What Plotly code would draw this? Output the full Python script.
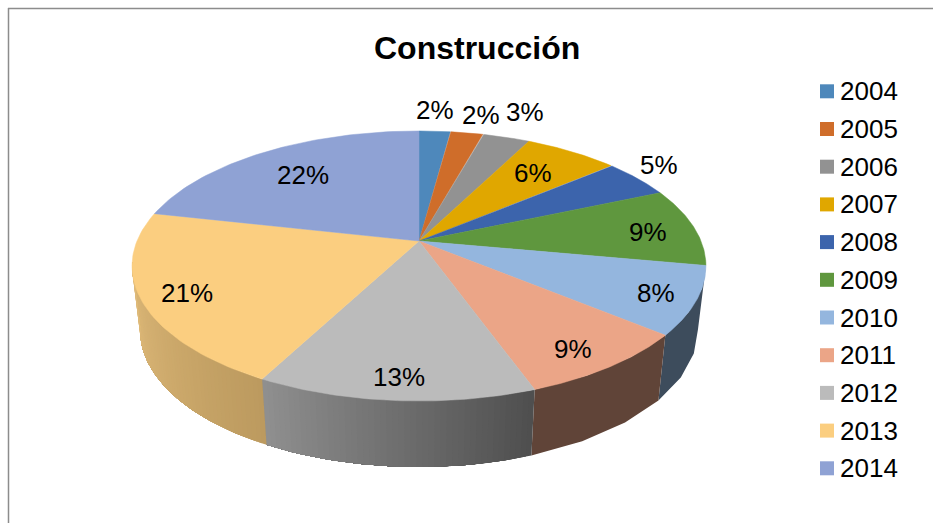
import numpy as np
import plotly.graph_objects as go

# ---------- data ----------
years = ["2004", "2005", "2006", "2007", "2008", "2009", "2010", "2011", "2012", "2013", "2014"]
shares = [2.1, 2.2, 3.2, 6.3, 4.7, 9.4, 8.1, 8.5, 13.2, 20.8, 21.5]
labels = ["2%", "2%", "3%", "6%", "5%", "9%", "8%", "9%", "13%", "21%", "22%"]
title = "Construcción"

# ---------- styles ----------
top_colors = ["#4E88BB", "#CF6D2A", "#929292", "#E0A700", "#3C64AC", "#5F973E",
              "#94B6DE", "#EBA587", "#BBBBBB", "#FBCE80", "#8FA2D4"]
side_colors = {"2010": ("#3D4C5C", "#3D4C5C"), "2011": ("#604438", "#604438"),
               "2012": ("#909090", "#4E4E4E"), "2013": ("#E0BB7A", "#BC9A5F"),
               "2014": ("#E0BB7A", "#E0BB7A")}
label_pos = [(435, 110), (481, 115), (525, 112), (533, 173), (659, 165), (648, 232),
             (656, 293), (573, 349), (399, 377), (187, 293), (303, 175)]
FONT = "Liberation Sans"

# ---------- projection of the tilted disc onto the pixel-scaled axes ----------
CX, CY, A, B, K = 419.0, 241.0, 282.0, 130.4, 0.185
DEPTH, SHRINK = 64.0, 0.972


def top(theta):
    u, v = np.sin(theta), np.cos(theta)
    w = 1 + K * v
    return CX + A * u / w, CY - B * v / w


def bottom(theta):
    x, y = top(theta)
    return CX + SHRINK * (x - CX), y + DEPTH + 2 * (y - CY) / 160


def hex_rgb(h):
    return np.array([int(h[i:i + 2], 16) for i in (1, 3, 5)], float)


def mix(c0, c1, t):
    r = hex_rgb(c0) * (1 - t) + hex_rgb(c1) * t
    return "rgb(%d,%d,%d)" % tuple(r.round())


edges = np.concatenate([[0], np.cumsum(shares)]) / np.sum(shares) * 2 * np.pi
VIS0, VIS1 = np.radians(100), np.radians(261)

fig = go.Figure()

# side wall: each band is painted from its start to the slice's end, so that
# the next band overlaps it and no seams show
for i, yr in enumerate(years):
    a0, a1 = max(edges[i], VIS0), min(edges[i + 1], VIS1)
    if a1 <= a0 or yr not in side_colors:
        continue
    c_left, c_right = side_colors[yr]
    n = 1 if c_left == c_right else max(2, int((a1 - a0) / np.radians(1.0)))
    ts = np.linspace(a0, a1, n + 1)
    for j in range(n):
        th = np.linspace(ts[j], a1, max(4, n - j + 1))
        xt, yt = top(th)
        xb, yb = bottom(th[::-1])
        col = mix(c_right, c_left, (j + 0.5) / n)
        fig.add_trace(go.Scatter(
            x=np.concatenate([xt, xb]), y=np.concatenate([yt, yb]),
            mode="lines", fill="toself", fillcolor=col,
            line=dict(color=col, width=0),
            showlegend=False, hoverinfo="skip"))

# top face
for i, yr in enumerate(years):
    th = np.linspace(edges[i], edges[i + 1], 60)
    xt, yt = top(th)
    fig.add_trace(go.Scatter(
        x=np.concatenate([[CX], xt, [CX]]), y=np.concatenate([[CY], yt, [CY]]),
        mode="lines", fill="toself", fillcolor=top_colors[i],
        line=dict(color=top_colors[i], width=0.5),
        showlegend=False, hoverinfo="skip"))

# legend: one swatch + label per year
LEG_X, LEG_TX, LEG_Y0, LEG_DY = 827, 839, 91.3, 37.7
for i, yr in enumerate(years):
    y = LEG_Y0 + LEG_DY * i
    fig.add_trace(go.Scatter(
        x=[LEG_X], y=[y], mode="markers", name=yr,
        marker=dict(symbol="square", size=14, color=top_colors[i]),
        showlegend=False, hoverinfo="skip"))
    fig.add_annotation(x=LEG_TX, y=y, text=yr, showarrow=False, xref="x", yref="y",
                       xanchor="left", xshift=-1,
                       font=dict(family=FONT, size=26, color="#000000"))

for txt, (x, y) in zip(labels, label_pos):
    fig.add_annotation(x=x, y=y, text=txt, showarrow=False, xref="x", yref="y",
                       font=dict(family=FONT, size=26, color="#000000"))

fig.add_annotation(x=477, y=48, text="<b>%s</b>" % title, showarrow=False, xref="x", yref="y",
                   font=dict(family=FONT, size=32, color="#000000"))

fig.add_shape(type="line", x0=8, x1=933, y0=8.5, y1=8.5, xref="x", yref="y",
              line=dict(color="#8C8C8C", width=1.5))
fig.add_shape(type="line", x0=8.5, x1=8.5, y0=8, y1=523, xref="x", yref="y",
              line=dict(color="#8C8C8C", width=1.5))

fig.update_layout(
    width=933, height=523, margin=dict(l=0, r=0, t=0, b=0),
    paper_bgcolor="white", plot_bgcolor="white",
    xaxis=dict(range=[0, 933], visible=False, fixedrange=True),
    yaxis=dict(range=[523, 0], visible=False, fixedrange=True),
    showlegend=False,
)

fig.write_html("out.html", config=dict(displayModeBar=False),
               post_script="document.body.style.margin='0';document.body.style.overflow='hidden';")
